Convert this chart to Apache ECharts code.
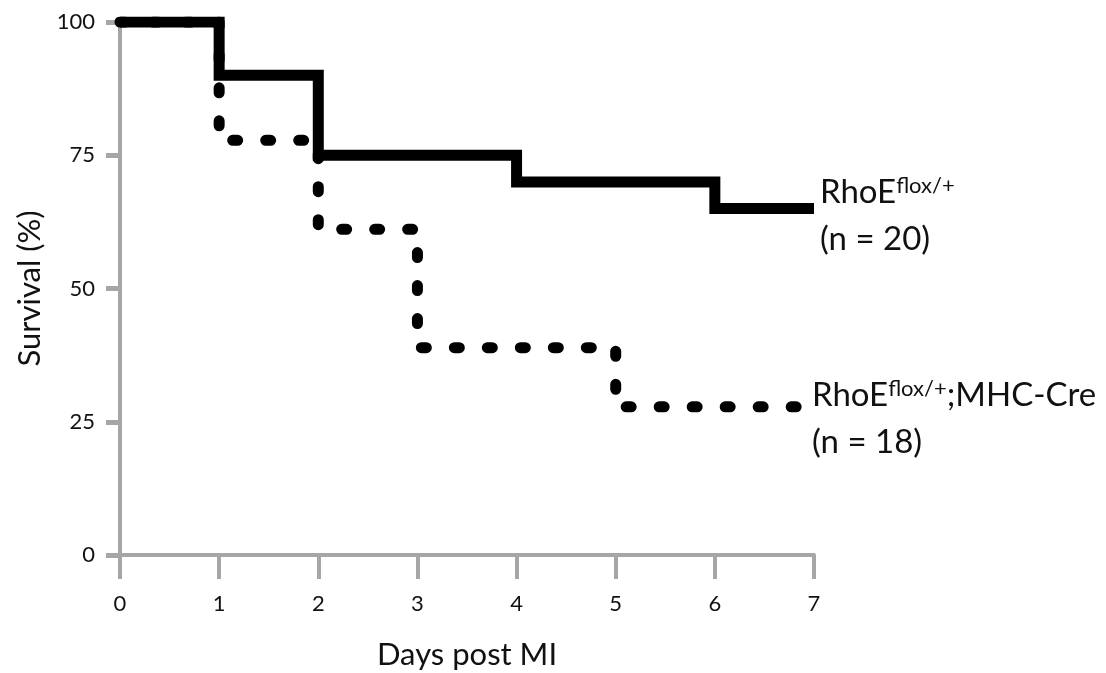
<!DOCTYPE html>
<html><head><meta charset="utf-8">
<script src="https://cdn.jsdelivr.net/npm/echarts@6/dist/echarts.min.js"></script>
<style>html,body{margin:0;padding:0;background:#fff}#c{width:1106px;height:673px}</style>
</head><body><div id="c"></div>
<script>
const ctrlDays = [0, 1, 2, 4, 6, 7];
const ctrlSurvival = [100, 90, 75, 70, 65, 65];
const creDays = [0, 1, 2, 3, 5, 7];
const creSurvival = [100, 77.8, 61.1, 38.9, 27.8, 27.8];
const ctrlLabel = ['RhoE', 'flox/+', '', '(n = 20)'];
const creLabel = ['RhoE', 'flox/+', ';MHC-Cre', '(n = 18)'];
const xTitle = 'Days post MI';
const yTitle = 'Survival (%)';

const FONT = 'Lato';
const AX = '#a6a6a6';
const TXT = '#111';
const rich = {
  b: {fontSize: 33, fontFamily: FONT, color: TXT, lineHeight: 47},
  sup: {fontSize: 22, fontFamily: FONT, color: TXT, verticalAlign: 'top', lineHeight: 47, padding: [6, 0, 0, 0]}
};
function fmt(l) {
  return '{b|' + l[0] + '}{sup|' + l[1] + '}' + (l[2] ? '{b|' + l[2] + '}' : '') + '\n{b|' + l[3] + '}';
}
const chart = echarts.init(document.getElementById('c'));
chart.setOption({
  animation: false,
  backgroundColor: '#fff',
  grid: {left: 120, right: 292, top: 22, bottom: 118, containLabel: false, outerBoundsMode: 'none'},
  xAxis: {
    type: 'value', min: 0, max: 7, interval: 1,
    name: xTitle, nameLocation: 'middle', nameGap: 84,
    nameTextStyle: {fontSize: 31, fontFamily: FONT, color: TXT},
    axisLine: {lineStyle: {color: AX, width: 4}},
    axisTick: {length: 24, lineStyle: {color: AX, width: 4}},
    axisLabel: {fontSize: 22, fontFamily: FONT, color: TXT, margin: 38},
    splitLine: {show: false}
  },
  yAxis: {
    type: 'value', min: 0, max: 100, interval: 25,
    name: yTitle, nameLocation: 'middle', nameGap: 74,
    nameTextStyle: {fontSize: 31, fontFamily: FONT, color: TXT},
    axisLine: {show: true, lineStyle: {color: AX, width: 4}},
    axisTick: {show: true, length: 14, lineStyle: {color: AX, width: 5}},
    axisLabel: {fontSize: 22, fontFamily: FONT, color: TXT, margin: 25},
    splitLine: {show: false}
  },
  series: [
    {
      type: 'line', step: 'end', showSymbol: false, symbol: 'none',
      data: creDays.map((d, i) => [d, creSurvival[i]]),
      lineStyle: {color: '#000', width: 11, type: [5, 28], cap: 'round', join: 'round'},
      endLabel: {show: true, formatter: () => fmt(creLabel), rich: rich, distance: 0, offset: [-2, 12]},
      z: 2
    },
    {
      type: 'line', step: 'end', showSymbol: false, symbol: 'none',
      data: ctrlDays.map((d, i) => [d, ctrlSurvival[i]]),
      lineStyle: {color: '#000', width: 11, type: 'solid', cap: 'butt', join: 'miter'},
      endLabel: {show: true, formatter: () => fmt(ctrlLabel), rich: rich, distance: 6, offset: [0, 7]},
      z: 3
    }
  ]
});
</script></body></html>
